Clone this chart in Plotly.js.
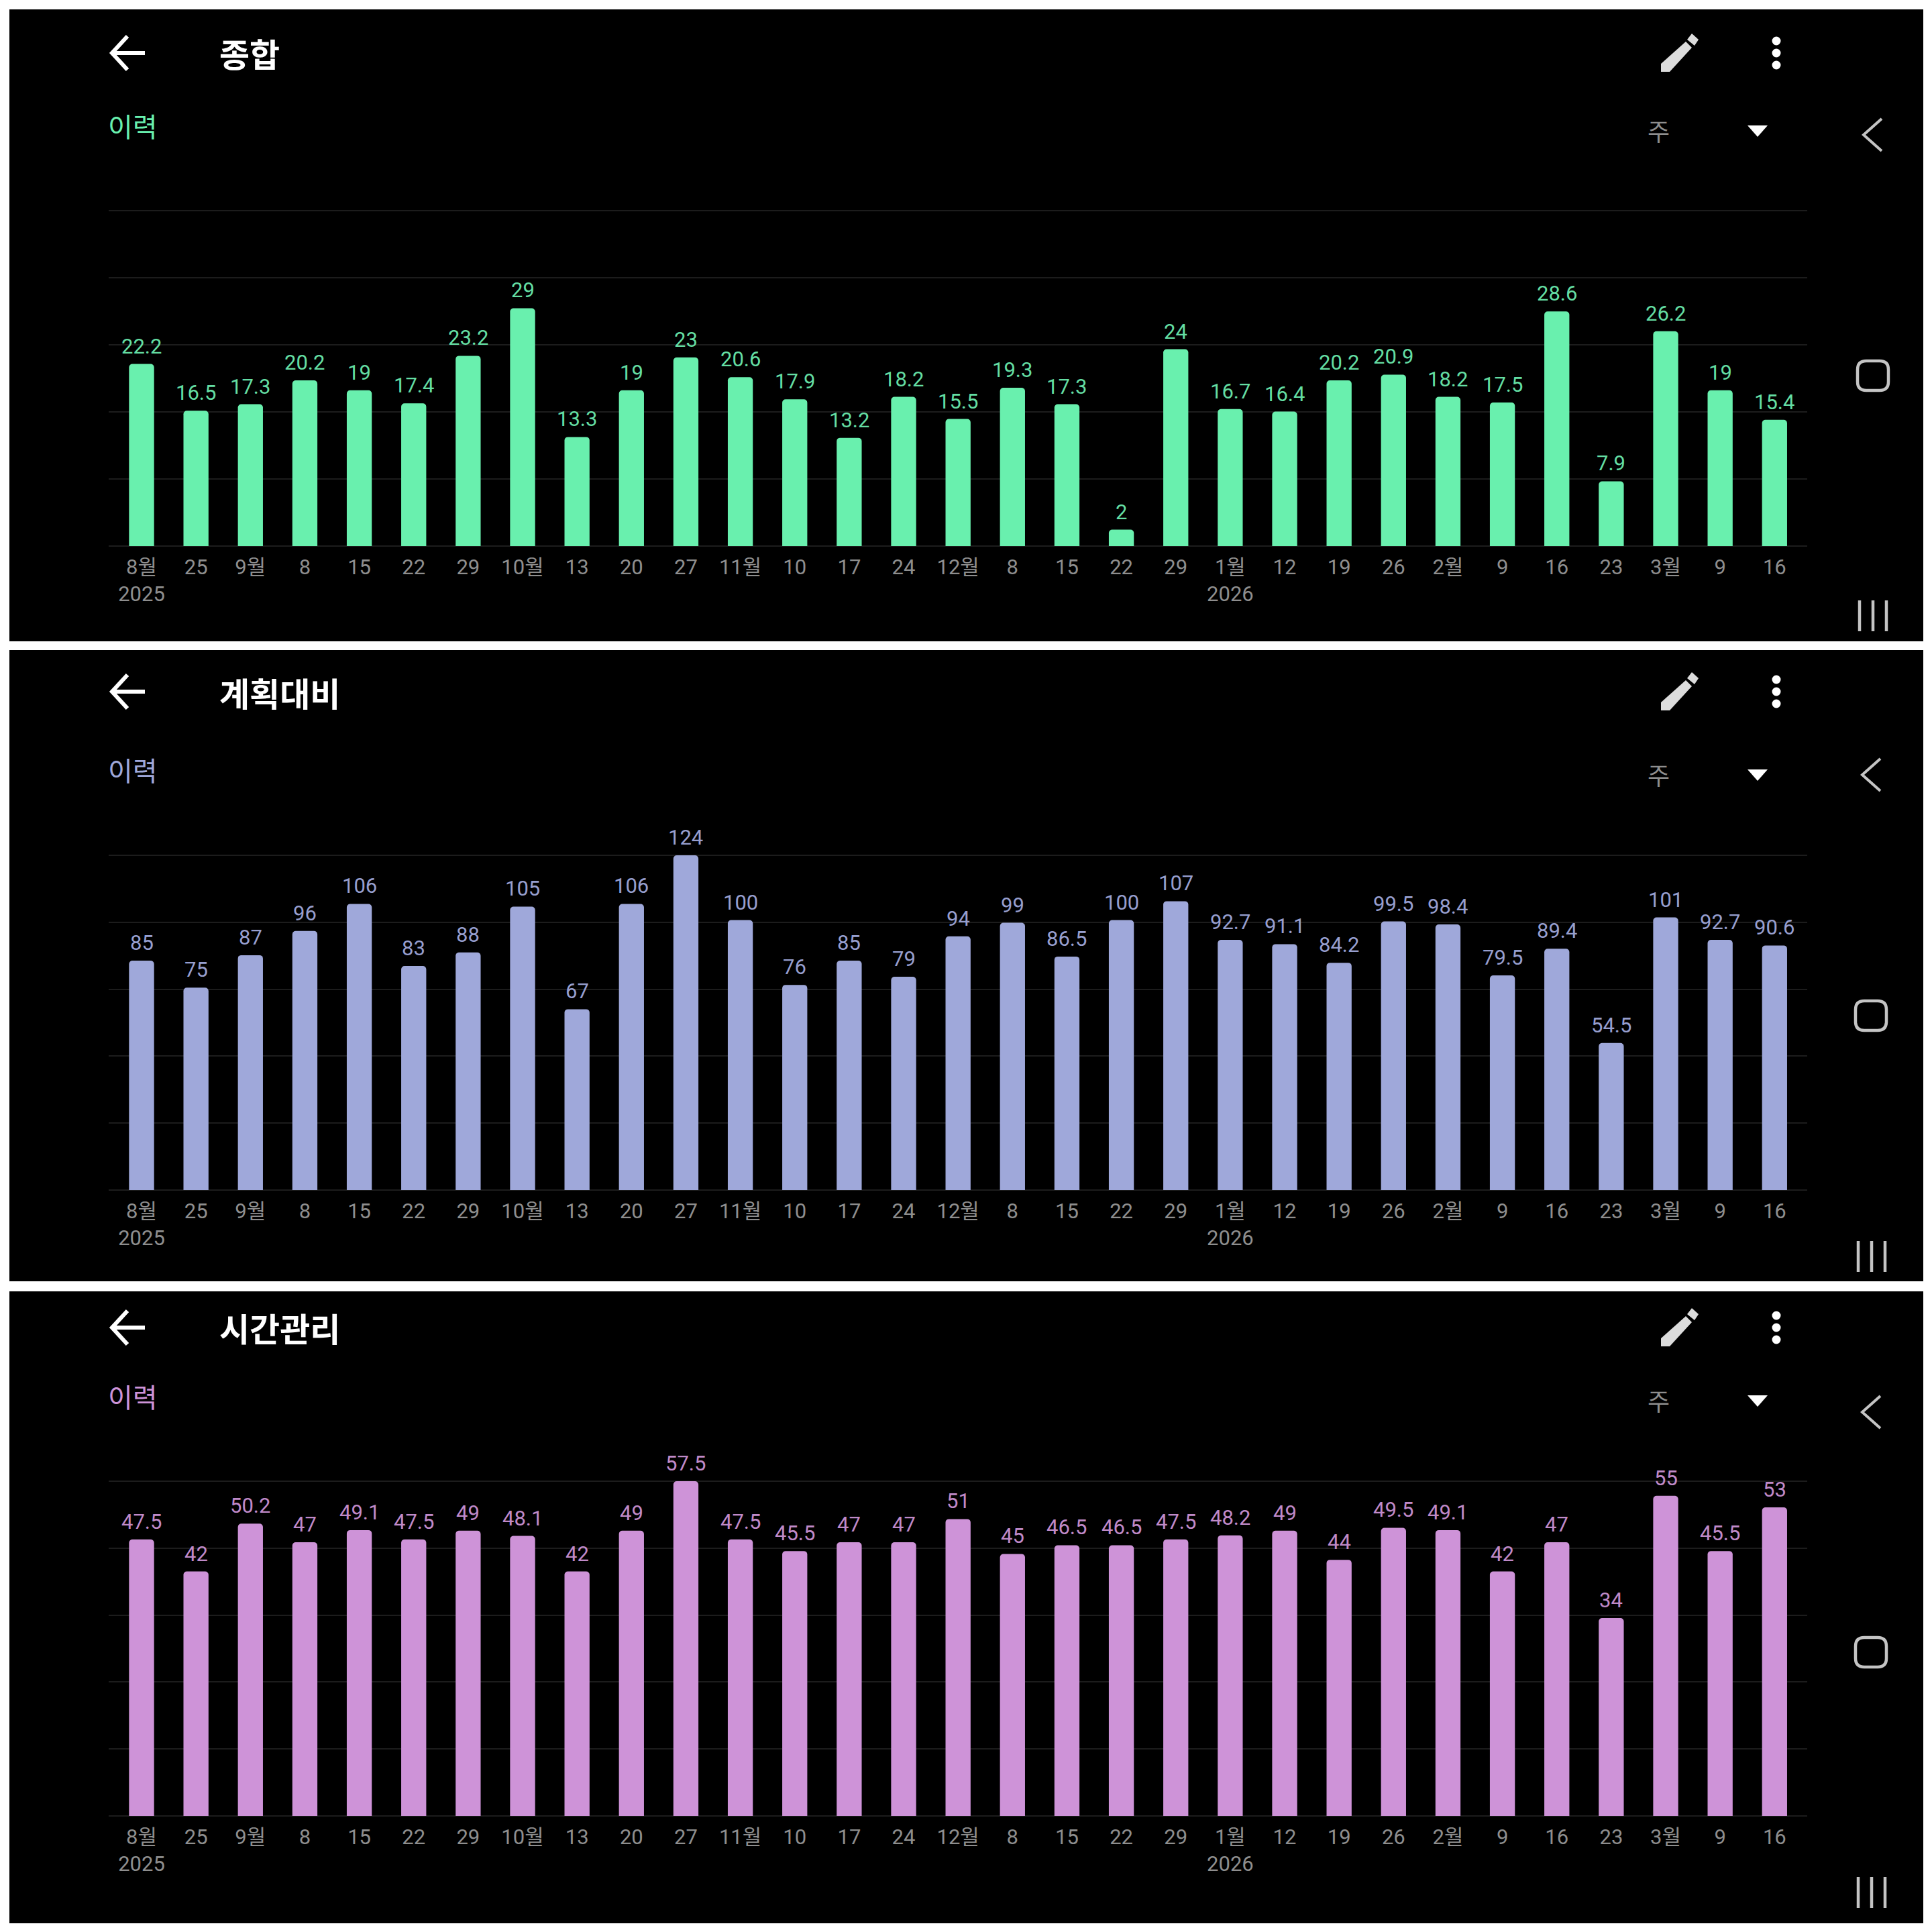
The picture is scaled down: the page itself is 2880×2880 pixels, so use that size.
<!DOCTYPE html>
<html><head><meta charset="utf-8">
<script src="https://cdn.plot.ly/plotly-3.0.1.min.js"></script>
<style>html,body{margin:0;padding:0;background:#fff}#c{width:2880px;height:2880px}</style>
</head><body><div id="c"></div>
<script>
const tickLabels = ["8월<br>2025","25","9월","8","15","22","29","10월","13","20","27","11월","10","17","24","12월","8","15","22","29","1월<br>2026","12","19","26","2월","9","16","23","3월","9","16"];
const overall = [22.2,16.5,17.3,20.2,19,17.4,23.2,29,13.3,19,23,20.6,17.9,13.2,18.2,15.5,19.3,17.3,2,24,16.7,16.4,20.2,20.9,18.2,17.5,28.6,7.9,26.2,19,15.4];
const plan = [85,75,87,96,106,83,88,105,67,106,124,100,76,85,79,94,99,86.5,100,107,92.7,91.1,84.2,99.5,98.4,79.5,89.4,54.5,101,92.7,90.6];
const timeMgmt = [47.5,42,50.2,47,49.1,47.5,49,48.1,42,49,57.5,47.5,45.5,47,47,51,45,46.5,46.5,47.5,48.2,49,44,49.5,49.1,42,47,34,55,45.5,53];
const titles = ["종합","계획대비","시간관리"];
const colors = ["#69f0ae","#9fa8da","#ce93d8"];
const textColors = ["#64dea3","#979fcf","#c08ac9"];
const yMax = [40.9,124,57.5];
const series = [overall,plan,timeMgmt];

const W=2880, H=2880;
const px=x=>x/W, py=y=>1-y/H;
const plotTop=[314,1275,2208], plotBot=[814,1774,2707];
const panels=[[14,956],[969,1910],[1925,2867]];
const xs=[162,2694];
const idx=tickLabels.map((_,i)=>i);
const font="Roboto, 'Noto Sans CJK KR', sans-serif";
const kr="'Noto Sans CJK KR', sans-serif";
const edge=4; // extra pixels kept round the y axis so that its end gridlines are drawn

const data=[], layout={
  width:W,height:H,margin:{l:0,r:0,t:0,b:0},paper_bgcolor:"#ffffff",plot_bgcolor:"rgba(0,0,0,0)",
  showlegend:false,bargap:0.54,font:{family:font},shapes:[],annotations:[]
};
series.forEach((vals,k)=>{
  const s=k===0?"":String(k+1);
  const unit=yMax[k]/(plotBot[k]-plotTop[k]);
  data.push({type:"bar",x:idx,y:vals,xaxis:"x"+s,yaxis:"y"+s,
    marker:{color:colors[k],cornerradius:5,line:{width:0}},
    cliponaxis:false,hoverinfo:"skip"});
  vals.forEach((v,i)=>layout.annotations.push({text:String(v),x:i,y:v,xref:"x"+s,yref:"y"+s,
    xanchor:"center",yanchor:"middle",yshift:26.5,showarrow:false,
    font:{family:font,size:31,color:textColors[k]}}));
  layout["xaxis"+s]={domain:[px(xs[0]),px(xs[1])],range:[-0.604,30.6],anchor:"free",position:py(plotBot[k]),
    tickmode:"array",tickvals:idx,ticktext:tickLabels,ticks:"",ticklen:0,showgrid:false,zeroline:false,showline:false,
    tickfont:{family:font,size:31,color:"#8e8e8e"},tickangle:0,automargin:false,ticklabelstandoff:10};
  layout["yaxis"+s]={domain:[py(plotBot[k]+edge),py(plotTop[k]-edge)],range:[-edge*unit,yMax[k]+edge*unit],anchor:"x"+s,
    tick0:0,dtick:yMax[k]/5,showticklabels:false,ticks:"",gridcolor:"#1c1c1c",gridwidth:2,zeroline:false,showline:false,automargin:false};
});

panels.forEach(p=>layout.shapes.push({type:"rect",xref:"paper",yref:"paper",layer:"below",
  x0:px(14),x1:px(2867),y0:py(p[0]),y1:py(p[1]),fillcolor:"#000000",line:{width:0}}));

function pathOf(pts,close){return "M"+pts.map(p=>px(p[0])+","+py(p[1])).join("L")+(close?"Z":"");}
function poly(pts,fill){layout.shapes.push({type:"path",xref:"paper",yref:"paper",path:pathOf(pts,true),fillcolor:fill,line:{width:0}});}
function line(pts,col,w){layout.shapes.push({type:"path",xref:"paper",yref:"paper",path:pathOf(pts,false),line:{color:col,width:w}});}
function circ(cx,cy,r,col){layout.shapes.push({type:"circle",xref:"paper",yref:"paper",x0:px(cx-r),x1:px(cx+r),y0:py(cy+r),y1:py(cy-r),fillcolor:col,line:{width:0}});}
function roundRect(x0,y0,x1,y1,r,col,w){
  const a=(x,y)=>px(x)+","+py(y);
  const path="M"+a(x0+r,y0)+"L"+a(x1-r,y0)+"Q"+a(x1,y0)+" "+a(x1,y0+r)+"L"+a(x1,y1-r)+"Q"+a(x1,y1)+" "+a(x1-r,y1)+"L"+a(x0+r,y1)+"Q"+a(x0,y1)+" "+a(x0,y1-r)+"L"+a(x0,y0+r)+"Q"+a(x0,y0)+" "+a(x0+r,y0)+"Z";
  layout.shapes.push({type:"path",xref:"paper",yref:"paper",path,line:{color:col,width:w}});
}
function note(text,x,y,size,color,anchor,weight){
  layout.annotations.push({text,xref:"paper",yref:"paper",x:px(x),y:py(y),xanchor:anchor,yanchor:"middle",showarrow:false,
    font:{family:kr,size,color,weight:weight||400}});
}
const headY=[79,1031,1979];
const subY=[187,1147,2081];
const navChevY=[201,1155,2105], navChevX=[2792,2790,2790];
const navSqY=[560,1514,2463], navSqX=[2792,2789,2789];
const navBarsY=[918,1873,2821], navBarsX=[2792,2790,2790];
const weekY=[194,1154,2087];
titles.forEach((t,k)=>{
  const y=headY[k];
  line([[216,y],[168,y]],"#ffffff",6);
  line([[190,y-25],[167,y],[190,y+25]],"#ffffff",6);
  note(t,325,y,49,"#ffffff","left",700);
  poly([[2476,y+28],[2476,y+16],[2513,y-17],[2522,y-8],[2489,y+28]],"#dcdcdc");
  poly([[2522,y-29],[2532,y-20],[2526,y-11],[2515,y-20]],"#dcdcdc");
  [-18,0,18].forEach(d=>circ(2648,y+d,6.5,"#ffffff"));
  note("이력",159,subY[k],40,colors[k],"left",400);
  note("주",2472,weekY[k],36,"#8e8e8e","center",400);
  const w=weekY[k];
  poly([[2605,w-7],[2635,w-7],[2620,w+10]],"#ffffff");
  const cx=navChevX[k], cy=navChevY[k];
  line([[cx+13,cy-24],[cx-14,cy],[cx+13,cy+24]],"#c4c4c4",4);
  roundRect(navSqX[k]-23,navSqY[k]-22,navSqX[k]+23,navSqY[k]+22,13,"#c4c4c4",4.5);
  [-20,0,20].forEach(d=>line([[navBarsX[k]+d,navBarsY[k]-23],[navBarsX[k]+d,navBarsY[k]+23]],"#c4c4c4",4.5));
});
Plotly.newPlot("c",data,layout,{staticPlot:true,displayModeBar:false});
</script></body></html>
